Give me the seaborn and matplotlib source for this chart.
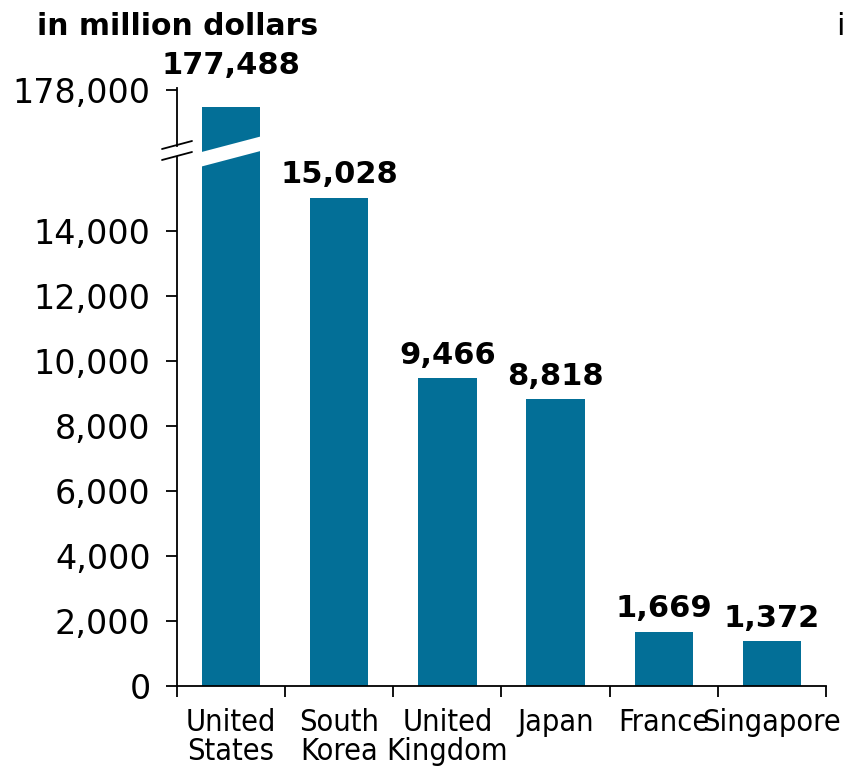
import numpy as np
import pandas as pd
import matplotlib
matplotlib.use("Agg")
import matplotlib.pyplot as plt
from matplotlib.patches import Polygon
from matplotlib.lines import Line2D
from matplotlib.transforms import blended_transform_factory
import seaborn as sns

# Data
countries = ["United\nStates", "South\nKorea", "United\nKingdom", "Japan", "France", "Singapore"]
values = [177488, 15028, 9466, 8818, 1669, 1372]
lower_ticks = [0, 2000, 4000, 6000, 8000, 10000, 12000, 14000]
upper_ticks = [178000]

BAR_COLOR = "#036f97"

sns.set_style("white")
plt.rcParams["font.family"] = ["DejaVu Sans"]
plt.rcParams["text.color"] = "black"
plt.rcParams["axes.labelcolor"] = "black"
plt.rcParams["xtick.color"] = "black"
plt.rcParams["ytick.color"] = "black"

df = pd.DataFrame({"country": countries, "value": values})

W, H = 843, 770
fig = plt.figure(figsize=(W / 100, H / 100), dpi=100)

# pixel layout of the two stacked panels (broken value axis)
left_px, right_px = 177, 826
zero_px, split_px, top_px = 686, 151, 88
px_per_unit = (686 - 621) / 2000.0

ax_bot = fig.add_axes([left_px / W, (H - zero_px) / H,
                       (right_px - left_px) / W, (zero_px - split_px) / H])
ax_top = fig.add_axes([left_px / W, (H - split_px) / H,
                       (right_px - left_px) / W, (split_px - top_px) / H],
                      sharex=ax_bot)

for ax in (ax_bot, ax_top):
    sns.barplot(data=df, x="country", y="value", ax=ax, color=BAR_COLOR,
                saturation=1, width=0.54, edgecolor="none")
    ax.set_xlabel("")
    ax.set_ylabel("")
    for s in ("top", "right"):
        ax.spines[s].set_visible(False)
    ax.set_xlim(-0.5, len(countries) - 0.5)

lower_max = (zero_px - split_px) / px_per_unit
ax_bot.set_ylim(0, lower_max)
upper_lo = 178000 - (split_px - 90) / px_per_unit
upper_hi = 178000 + (90 - top_px) / px_per_unit
ax_top.set_ylim(upper_lo, upper_hi)

ax_top.spines["bottom"].set_visible(False)
ax_top.tick_params(axis="x", which="both", bottom=False, labelbottom=False)

# left spine segments with a gap for the break marks
ax_bot.spines["left"].set_bounds(0, (zero_px - 157) / px_per_unit)
ax_top.spines["left"].set_bounds(178000 - (146 - 90) / px_per_unit, upper_hi)
for ax in (ax_bot, ax_top):
    ax.spines["left"].set_linewidth(1.3)
    ax.spines["left"].set_color("black")
ax_bot.spines["bottom"].set_linewidth(1.3)
ax_bot.spines["bottom"].set_color("black")

# value-axis ticks
ax_bot.set_yticks(lower_ticks, labels=[f"{t:,}" for t in lower_ticks])
ax_top.set_yticks(upper_ticks, labels=[f"{t:,}" for t in upper_ticks])
for ax in (ax_bot, ax_top):
    ax.tick_params(axis="y", direction="out", length=8, width=1.3,
                   pad=11, labelsize=24, colors="black", left=True)

# category axis: tick marks between bars, labels under bars
n = len(countries)
ax_bot.set_xticks(np.arange(-0.5, n), labels=[""] * (n + 1))
ax_bot.set_xticks(np.arange(n), labels=countries, minor=True)
ax_bot.tick_params(axis="x", which="major", direction="out", length=8,
                   width=1.3, bottom=True, colors="black")
ax_bot.tick_params(axis="x", which="minor", length=0, pad=16, bottom=True,
                   colors="black")
for lbl in ax_bot.get_xticklabels(minor=True):
    lbl.set_fontsize(22)
    lbl.set_fontstretch("condensed")
    lbl.set_linespacing(1.0)
    lbl.set_verticalalignment("top")

# value labels
for i, v in enumerate(values):
    if i == 0:
        tr = blended_transform_factory(ax_top.transData, ax_top.transAxes)
        ax_top.annotate(f"{v:,}", xy=(i, 1.0), xycoords=tr,
                        xytext=(0, 6), textcoords="offset points",
                        ha="center", va="bottom", fontsize=22,
                        fontweight="bold", color="black",
                        annotation_clip=False)
    else:
        ax_bot.annotate(f"{v:,}", xy=(i, v), xytext=(0, 6),
                        textcoords="offset points", ha="center",
                        va="bottom", fontsize=22, fontweight="bold",
                        color="black")

# slanted white gap across the clipped bar
bar = ax_bot.patches[0]
x0, x1 = bar.get_x() - 0.02, bar.get_x() + bar.get_width() + 0.02
def yv(px):
    return (zero_px - px) / px_per_unit
gap = Polygon([(x0, yv(152.5)), (x1, yv(136)), (x1, yv(150.5)), (x0, yv(167))],
              closed=True, facecolor="white", edgecolor="none",
              transform=ax_bot.transData, clip_on=False, zorder=20)
ax_top.add_artist(gap)

# break marks on the value axis
bt = blended_transform_factory(ax_bot.transAxes, ax_bot.transData)
dx0 = (162 - left_px) / (right_px - left_px)
dx1 = (192 - left_px) / (right_px - left_px)
for (ya, yb) in [(149, 141), (160, 152)]:
    ax_top.add_artist(Line2D([dx0, dx1], [yv(ya), yv(yb)], transform=bt,
                             color="black", lw=1.3, clip_on=False, zorder=21))

fig.text(37 / W, 1 - 35 / H, "in million dollars", fontsize=21.5,
         fontweight="bold", ha="left", va="baseline", color="black")
fig.text(836 / W, 1 - 35 / H, "i", fontsize=22, ha="left", va="baseline",
         color="black")

fig.savefig("out.png", dpi=100)
